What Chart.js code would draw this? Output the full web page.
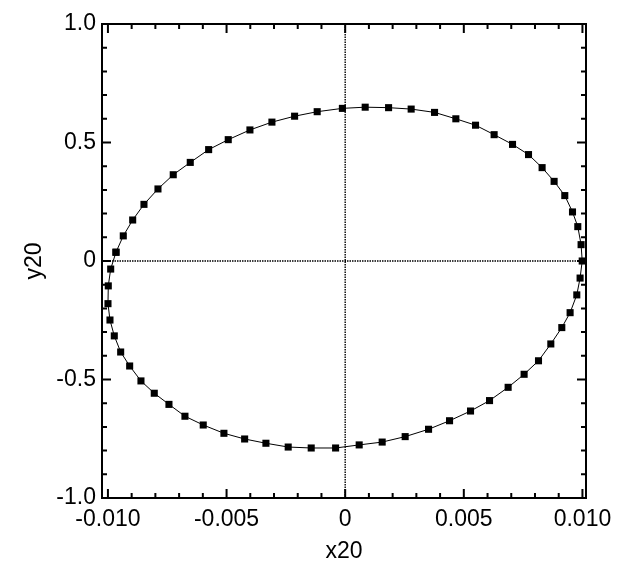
<!DOCTYPE html>
<html>
<head>
<meta charset="utf-8">
<script src="https://cdn.jsdelivr.net/npm/chart.js@4"></script>
<style>
  html, body { margin: 0; padding: 0; background: #fff; }
  #wrap { width: 640px; height: 569px; }
</style>
</head>
<body>
<div id="wrap"><canvas id="orbit" width="640" height="569"></canvas></div>
<script>
// points, going round the loop
const x20 = [
  -0.009661, -0.009353, -0.008957, -0.008481, -0.007891, -0.007247, -0.006530, -0.005755,
  -0.004929, -0.004015, -0.003088, -0.002132, -0.001180, -0.000118, 0.000843, 0.001829,
  0.002781, 0.003767, 0.004664, 0.005494, 0.006278, 0.007053, 0.007727, 0.008300,
  0.008806, 0.009256, 0.009581, 0.009804, 0.009943, 0.009990, 0.009901, 0.009762,
  0.009480, 0.009130, 0.008667, 0.008148, 0.007542, 0.006868, 0.006084, 0.005283,
  0.004399, 0.003514, 0.002528, 0.001559, 0.000590, -0.000404, -0.001432, -0.002402,
  -0.003341, -0.004238, -0.005111, -0.005983, -0.006754, -0.007428, -0.008047, -0.008608,
  -0.009084, -0.009463, -0.009732, -0.009914, -0.009998, -0.009985, -0.009884
];
const y20 = [
  0.037, 0.106, 0.173, 0.239, 0.304, 0.364, 0.416, 0.470,
  0.512, 0.553, 0.586, 0.611, 0.630, 0.644, 0.649, 0.647,
  0.641, 0.627, 0.600, 0.573, 0.533, 0.492, 0.449, 0.394,
  0.336, 0.276, 0.207, 0.145, 0.069, 0.000, -0.072, -0.143,
  -0.218, -0.281, -0.350, -0.421, -0.478, -0.533, -0.589, -0.633,
  -0.674, -0.710, -0.741, -0.764, -0.776, -0.789, -0.789, -0.785,
  -0.769, -0.751, -0.727, -0.692, -0.655, -0.605, -0.558, -0.506,
  -0.443, -0.384, -0.316, -0.249, -0.180, -0.105, -0.034
];
const xTicks = [-0.010, -0.005, 0, 0.005, 0.010];
const yTicks = [-1.0, -0.5, 0, 0.5, 1.0];
const xTickLabels = ['-0.010', '-0.005', '0', '0.005', '0.010'];
const yTickLabels = ['-1.0', '-0.5', '0', '0.5', '1.0'];

const pts = x20.map((v, i) => ({ x: v, y: y20[i] }));
pts.push(pts[0]); // close the loop

const FONT = 'Liberation Sans, Arial, Helvetica, sans-serif';

// dotted zero lines, frame and inward ticks on all four sides
const framePlugin = {
  id: 'frame',
  beforeDatasetsDraw(chart) {
    const { ctx, chartArea: a, scales } = chart;
    const x0 = scales.x.getPixelForValue(0);
    const y0 = scales.y.getPixelForValue(0);
    ctx.save();
    ctx.strokeStyle = '#000';
    ctx.lineWidth = 1.4;
    ctx.setLineDash([1.5, 1]);
    ctx.beginPath();
    ctx.moveTo(x0, a.top);
    ctx.lineTo(x0, a.bottom);
    ctx.moveTo(a.left, y0);
    ctx.lineTo(a.right, y0);
    ctx.stroke();
    ctx.restore();
  },
  afterDraw(chart) {
    const { ctx, chartArea: a, scales } = chart;
    ctx.save();
    ctx.strokeStyle = '#000';
    ctx.lineWidth = 2;
    ctx.setLineDash([]);
    ctx.strokeRect(a.left, a.top, a.right - a.left, a.bottom - a.top);
    ctx.beginPath();
    for (let i = -10; i <= 10; i++) {
      const px = scales.x.getPixelForValue(i * 0.001);
      const len = i % 5 === 0 ? 9 : 5;
      ctx.moveTo(px, a.bottom); ctx.lineTo(px, a.bottom - len);
      ctx.moveTo(px, a.top); ctx.lineTo(px, a.top + len);
    }
    for (let i = -10; i <= 10; i++) {
      const py = scales.y.getPixelForValue(i * 0.1);
      const len = i % 5 === 0 ? 9 : 5;
      ctx.moveTo(a.left, py); ctx.lineTo(a.left + len, py);
      ctx.moveTo(a.right, py); ctx.lineTo(a.right - len, py);
    }
    ctx.stroke();
    ctx.restore();
  }
};

new Chart(document.getElementById('orbit'), {
  type: 'scatter',
  data: {
    datasets: [{
      data: pts,
      showLine: true,
      borderColor: '#000',
      borderWidth: 1,
      tension: 0,
      pointStyle: 'rect',
      pointRadius: 5,
      pointBorderWidth: 0,
      pointBackgroundColor: '#000',
      clip: false
    }]
  },
  options: {
    responsive: false,
    animation: false,
    layout: { padding: { top: 24, right: 54, left: 0, bottom: 0 } },
    plugins: { legend: { display: false }, tooltip: { enabled: false } },
    scales: {
      x: {
        type: 'linear',
        min: -0.01025,
        max: 0.01015,
        afterBuildTicks: s => { s.ticks = xTicks.map(v => ({ value: v })); },
        afterFit: s => { s.height = 71; },
        grid: { display: false, drawTicks: false },
        border: { display: false },
        ticks: {
          color: '#000',
          padding: 8,
          maxRotation: 0,
          font: { family: FONT, size: 23 },
          callback: v => xTickLabels[xTicks.indexOf(v)]
        },
        title: {
          display: true,
          text: 'x20',
          color: '#000',
          font: { family: FONT, size: 23 },
          padding: { top: 0, bottom: 4 }
        }
      },
      y: {
        type: 'linear',
        min: -1,
        max: 1,
        afterBuildTicks: s => { s.ticks = yTicks.map(v => ({ value: v })); },
        afterFit: s => { s.width = 102; },
        grid: { display: false, drawTicks: false },
        border: { display: false },
        ticks: {
          color: '#000',
          padding: 6,
          font: { family: FONT, size: 23 },
          callback: v => yTickLabels[yTicks.indexOf(v)]
        },
        title: {
          display: true,
          text: 'y20',
          color: '#000',
          font: { family: FONT, size: 23 },
          padding: { top: 21, bottom: 0 }
        }
      }
    }
  },
  plugins: [framePlugin]
});
</script>
</body>
</html>
